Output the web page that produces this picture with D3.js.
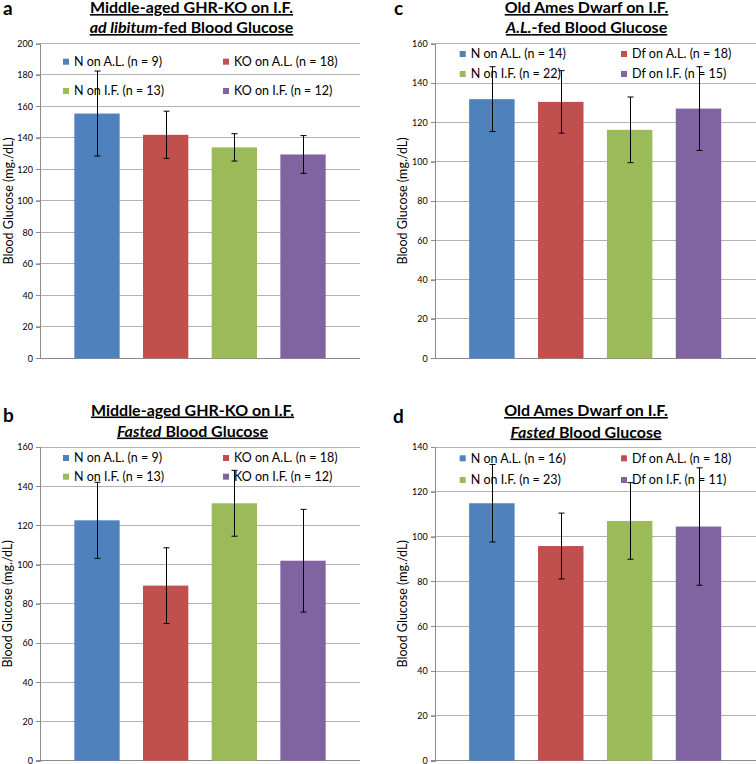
<!DOCTYPE html>
<html>
<head>
<meta charset="utf-8">
<script src="https://cdn.jsdelivr.net/npm/d3@7"></script>
<style>
  html, body { margin: 0; padding: 0; background: #fff; }
  svg { display: block; }
  text { font-family: Lato, "Open Sans", sans-serif; }
</style>
</head>
<body>
<svg id="chart" width="756" height="764"></svg>
<script>
// ---------------- data ----------------
const groupColors = ["#4F81BD", "#C0504D", "#9BBB59", "#8064A2"];

const legendA = ["N on A.L. (n = 9)", "KO on A.L. (n = 18)", "N on I.F. (n = 13)", "KO on I.F. (n = 12)"];
const meansA  = [155.5, 142, 134, 129.5];
const errA    = [27, 15, 8.7, 12];
const ticksA  = [0, 20, 40, 60, 80, 100, 120, 140, 160, 180, 200];

const legendB = ["N on A.L. (n = 9)", "KO on A.L. (n = 18)", "N on I.F. (n = 13)", "KO on I.F. (n = 12)"];
const meansB  = [122.6, 89.3, 131.3, 102];
const errB    = [19.4, 19.3, 16.8, 26.2];
const ticksB  = [0, 20, 40, 60, 80, 100, 120, 140, 160];

const legendC = ["N on A.L. (n = 14)", "Df on A.L. (n = 18)", "N on I.F. (n = 22)", "Df on I.F. (n = 15)"];
const meansC  = [131.8, 130.4, 116.2, 127];
const errC    = [16.5, 15.9, 16.7, 21.3];
const ticksC  = [0, 20, 40, 60, 80, 100, 120, 140, 160];

const legendD = ["N on A.L. (n = 16)", "Df on A.L. (n = 18)", "N on I.F. (n = 23)", "Df on I.F. (n = 11)"];
const meansD  = [114.9, 95.8, 107, 104.5];
const errD    = [17.3, 14.7, 17.1, 26.2];
const ticksD  = [0, 20, 40, 60, 80, 100, 120, 140];

const titleLine1 = ["Middle-aged GHR-KO on I.F.", "Middle-aged GHR-KO on I.F.", "Old Ames Dwarf on I.F.", "Old Ames Dwarf on I.F."];
const titleLine2 = [
  [["ad libitum", true], ["-fed Blood Glucose", false]],
  [["Fasted", true], [" Blood Glucose", false]],
  [["A.L.", true], ["-fed Blood Glucose", false]],
  [["Fasted", true], [" Blood Glucose", false]]
];
const panelLabels = ["a", "b", "c", "d"];
const yLabel = "Blood Glucose (mg./dL)";

// ---------------- layout ----------------
const panels = [
  { label: panelLabels[0], legend: legendA, means: meansA, err: errA, ticks: ticksA, t1: titleLine1[0], t2: titleLine2[0],
    left: 40, right: 360, top: 43.5, bottom: 358.3, titleX: 191.5, tb1: 13, tb2: 33, labX: 3, labY: 15, ylabX: 13,
    legX: [63, 223], legY: [61.7, 91] },
  { label: panelLabels[1], legend: legendB, means: meansB, err: errB, ticks: ticksB, t1: titleLine1[1], t2: titleLine2[1],
    left: 40, right: 360, top: 447, bottom: 760.7, titleX: 192.5, tb1: 415.5, tb2: 436.5, labX: 3, labY: 422, ylabX: 12,
    legX: [63, 223], legY: [458, 476.7] },
  { label: panelLabels[2], legend: legendC, means: meansC, err: errC, ticks: ticksC, t1: titleLine1[2], t2: titleLine2[2],
    left: 434.7, right: 755.7, top: 43.7, bottom: 358.3, titleX: 586.5, tb1: 13, tb2: 33, labX: 394, labY: 15, ylabX: 407,
    legX: [459.7, 621], legY: [54, 74] },
  { label: panelLabels[3], legend: legendD, means: meansD, err: errD, ticks: ticksD, t1: titleLine1[3], t2: titleLine2[3],
    left: 434.7, right: 755.7, top: 447, bottom: 760.7, titleX: 586, tb1: 416, tb2: 437.5, labX: 393, labY: 423, ylabX: 407,
    legX: [459.7, 621], legY: [458.3, 480] }
];

const svg = d3.select("#chart");

panels.forEach(p => {
  const g = svg.append("g");
  const y = d3.scaleLinear()
    .domain([0, d3.max(p.ticks)])
    .range([p.bottom, p.top]);
  const x = d3.scaleBand()
    .domain(d3.range(p.means.length))
    .range([p.left, p.right])
    .paddingInner(0.34)
    .paddingOuter(0.5);

  // gridlines
  g.append("g").selectAll("line").data(p.ticks).join("line")
    .attr("x1", p.left - 4).attr("x2", p.right)
    .attr("y1", d => y(d)).attr("y2", d => y(d))
    .attr("stroke", d => d === 0 ? "#8c8c8c" : "#b2b2b2")
    .attr("stroke-width", 1)
    .attr("shape-rendering", "crispEdges");

  // y axis
  const axis = d3.axisLeft(y).tickValues(p.ticks).tickSize(4).tickPadding(3);
  const ag = g.append("g").attr("transform", `translate(${p.left},0)`).call(axis);
  ag.select(".domain").attr("stroke", "#8c8c8c").attr("shape-rendering", "crispEdges");
  ag.selectAll(".tick line").attr("stroke", "#8c8c8c").attr("shape-rendering", "crispEdges");
  ag.selectAll(".tick text")
    .attr("font-family", "Lato, sans-serif")
    .attr("font-size", 9)
    .attr("fill", "#000");

  // y label
  g.append("text")
    .attr("transform", `translate(${p.ylabX},${(p.top + p.bottom) / 2}) rotate(-90)`)
    .attr("text-anchor", "middle")
    .attr("font-size", 12.5)
    .text(yLabel);

  // bars
  g.append("g").selectAll("rect").data(p.means).join("rect")
    .attr("x", (d, i) => x(i))
    .attr("width", x.bandwidth())
    .attr("y", d => y(d))
    .attr("height", d => y(0) - y(d))
    .attr("fill", (d, i) => groupColors[i]);

  // legend
  const lg = g.append("g");
  p.legend.forEach((txt, i) => {
    const lx = p.legX[i % 2], ly = p.legY[Math.floor(i / 2)];
    lg.append("rect").attr("x", lx).attr("y", ly - 3).attr("width", 6).attr("height", 6)
      .attr("fill", groupColors[i]);
    lg.append("text").attr("x", lx + 11).attr("y", ly).attr("dy", "0.35em")
      .attr("font-size", 12.5).text(txt);
  });

  // error bars
  const eg = g.append("g").attr("stroke", "#000").attr("stroke-width", 1);
  p.means.forEach((m, i) => {
    const cx = Math.round(x(i) + x.bandwidth() / 2) + 0.5;
    const y1 = y(m + p.err[i]), y2 = y(m - p.err[i]);
    eg.append("line").attr("x1", cx).attr("x2", cx).attr("y1", y1).attr("y2", y2);
    eg.append("line").attr("x1", cx - 3).attr("x2", cx + 3).attr("y1", y1).attr("y2", y1);
    eg.append("line").attr("x1", cx - 3).attr("x2", cx + 3).attr("y1", y2).attr("y2", y2);
  });

  // titles
  g.append("text").attr("x", p.titleX).attr("y", p.tb1).attr("text-anchor", "middle")
    .attr("font-size", 16).attr("font-weight", "bold")
    .attr("text-decoration", "underline").text(p.t1);
  const t2 = g.append("text").attr("x", p.titleX).attr("y", p.tb2).attr("text-anchor", "middle")
    .attr("font-size", 16).attr("font-weight", "bold").attr("text-decoration", "underline");
  p.t2.forEach(([s, it]) => {
    t2.append("tspan").attr("font-style", it ? "italic" : "normal").text(s);
  });

  // panel letter
  g.append("text").attr("x", p.labX).attr("y", p.labY)
    .attr("font-family", "'Liberation Sans', Arial, sans-serif")
    .attr("font-size", 19).attr("font-weight", "bold").text(p.label);
});
</script>
</body>
</html>
